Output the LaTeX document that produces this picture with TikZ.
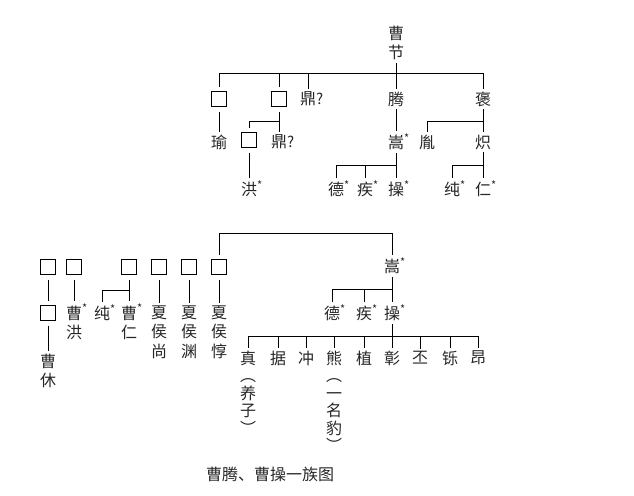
\documentclass[tikz,border=0pt]{standalone}
\usepackage{fontspec}
\newfontfamily\cjk{Noto Sans CJK SC}
\newcommand{\st}{\rlap{\raisebox{0.4em}{\fontsize{11}{11}\selectfont *}}}
\newcommand{\qm}{\rlap{\fontsize{15}{15}\selectfont ?}}
\begin{document}
\begin{tikzpicture}[x=1pt,y=-1pt,
  every node/.style={font=\cjk\fontsize{16}{18}\selectfont, text=black!85, inner sep=1pt, outer sep=2pt},
  vt/.style={align=center, font=\cjk\fontsize{16}{19.5}\selectfont},
  bx/.style={draw, line width=0.9pt, minimum size=15pt, inner sep=0pt, outer sep=5pt},
  ln/.style={line width=1pt}]
\useasboundingbox (0,0) rectangle (634,495);
% ---- top tree ----
\node[vt] (cj) at (396,43) {曹\\节};
\node[bx] (t1) at (219,99) {};
\node[bx] (t2) at (279,99) {};
\node (ding1) at (308,99) {鼎\qm};
\node (teng) at (396,99) {腾};
\node (bao) at (483,99) {褒};
\coordinate (b1) at (396,73);
\draw[ln] (cj.south) -- (b1);
\draw[ln] (b1) -| (t1.north);
\draw[ln] (b1) -| (t2.north);
\draw[ln] (b1) -| (ding1.north);
\draw[ln] (b1) -| (bao.north);
\draw[ln] (b1) -- (teng.north);
\node (yu) at (219,142) {瑜};
\draw[ln] (t1.south) -- (yu.north);
\node[bx] (t3) at (249,140) {};
\node (ding2) at (279,142) {鼎\qm};
\coordinate (b2) at (279,121);
\draw[ln] (t2.south) -- (ding2.north);
\draw[ln] (b2) -| (t3.north);
\node (hong) at (249,189) {洪\st};
\draw[ln] (t3.south) -- (hong.north);
\node (song) at (396,142) {嵩\st};
\draw[ln] (teng.south) -- (song.north);
\node (yin) at (427,142) {胤};
\node (chi) at (483,142) {炽};
\coordinate (b3) at (483,121);
\draw[ln] (bao.south) -- (chi.north);
\draw[ln] (b3) -| (yin.north);
\node (de) at (336,189) {德\st};
\node (ji) at (365,189) {疾\st};
\node (cao) at (396,189) {操\st};
\coordinate (b4) at (396,165);
\draw[ln] (song.south) -- (cao.north);
\draw[ln] (b4) -| (de.north);
\draw[ln] (b4) -| (ji.north);
\node (chun) at (452,189) {纯\st};
\node (ren) at (483,189) {仁\st};
\coordinate (b5) at (483,165);
\draw[ln] (chi.south) -- (ren.north);
\draw[ln] (b5) -| (chun.north);
% ---- bottom tree ----
\node[bx] (c1) at (48,267) {};
\node[bx] (c2) at (74,267) {};
\node[bx] (c3) at (129,267) {};
\node[bx] (c4) at (159,267) {};
\node[bx] (c5) at (189,267) {};
\node[bx] (c6) at (219,267) {};
\node (song2) at (392,266) {嵩\st};
\coordinate (b6) at (392,233);
\draw[ln] (song2.north) -- (b6) -| (c6.north);
\node[bx] (c7) at (48,313) {};
\draw[ln] (c1.south) -- (c7.north);
\node[vt] (caoxiu) at (48,371) {曹\\休};
\draw[ln] (c7.south) -- (caoxiu.north);
\node[vt] (caohong) at (74,322) {曹\st\\洪};
\draw[ln] (c2.south) -- (caohong.north);
\node (chun2) at (102,313) {纯\st};
\node[vt] (caoren) at (129,322) {曹\st\\仁};
\coordinate (b7) at (129,290);
\draw[ln] (c3.south) -- (caoren.north);
\draw[ln] (b7) -| (chun2.north);
\node[vt] (xs) at (159,332) {夏\\侯\\尚};
\node[vt] (xy) at (189,332) {夏\\侯\\渊};
\node[vt] (xd) at (219,332) {夏\\侯\\惇};
\draw[ln] (c4.south) -- (xs.north);
\draw[ln] (c5.south) -- (xy.north);
\draw[ln] (c6.south) -- (xd.north);
\node (de2) at (332,313) {德\st};
\node (ji2) at (364,313) {疾\st};
\node (cao2) at (392,313) {操\st};
\coordinate (b8) at (392,289);
\draw[ln] (song2.south) -- (cao2.north);
\draw[ln] (b8) -| (de2.north);
\draw[ln] (b8) -| (ji2.north);
\coordinate (b9) at (392,336);
\draw[ln] (cao2.south) -- (b9);
\foreach \n/\x/\c in {s1/248/真,s2/278/据,s3/306/冲,s4/334/熊,s5/364/植,s6/392/彰,s7/420/丕,s8/450/铄,s9/478/昂}{
  \node (\n) at (\x,358) {\c};
  \draw[ln] (b9) -| (\n.north);
}
\node[vt, font=\cjk\fontsize{16}{17.5}\selectfont, anchor=north, inner sep=0pt] (p1) at (248,377) {︵\\养\\子\\︶};
\node[vt, font=\cjk\fontsize{16}{17.5}\selectfont, anchor=north, inner sep=0pt] (p2) at (334,377) {︵\\一\\名\\豹\\︶};
\node[font=\cjk\fontsize{16}{18}\selectfont] (cap) at (270,474) {曹腾、曹操一族图};
\end{tikzpicture}
\end{document}
